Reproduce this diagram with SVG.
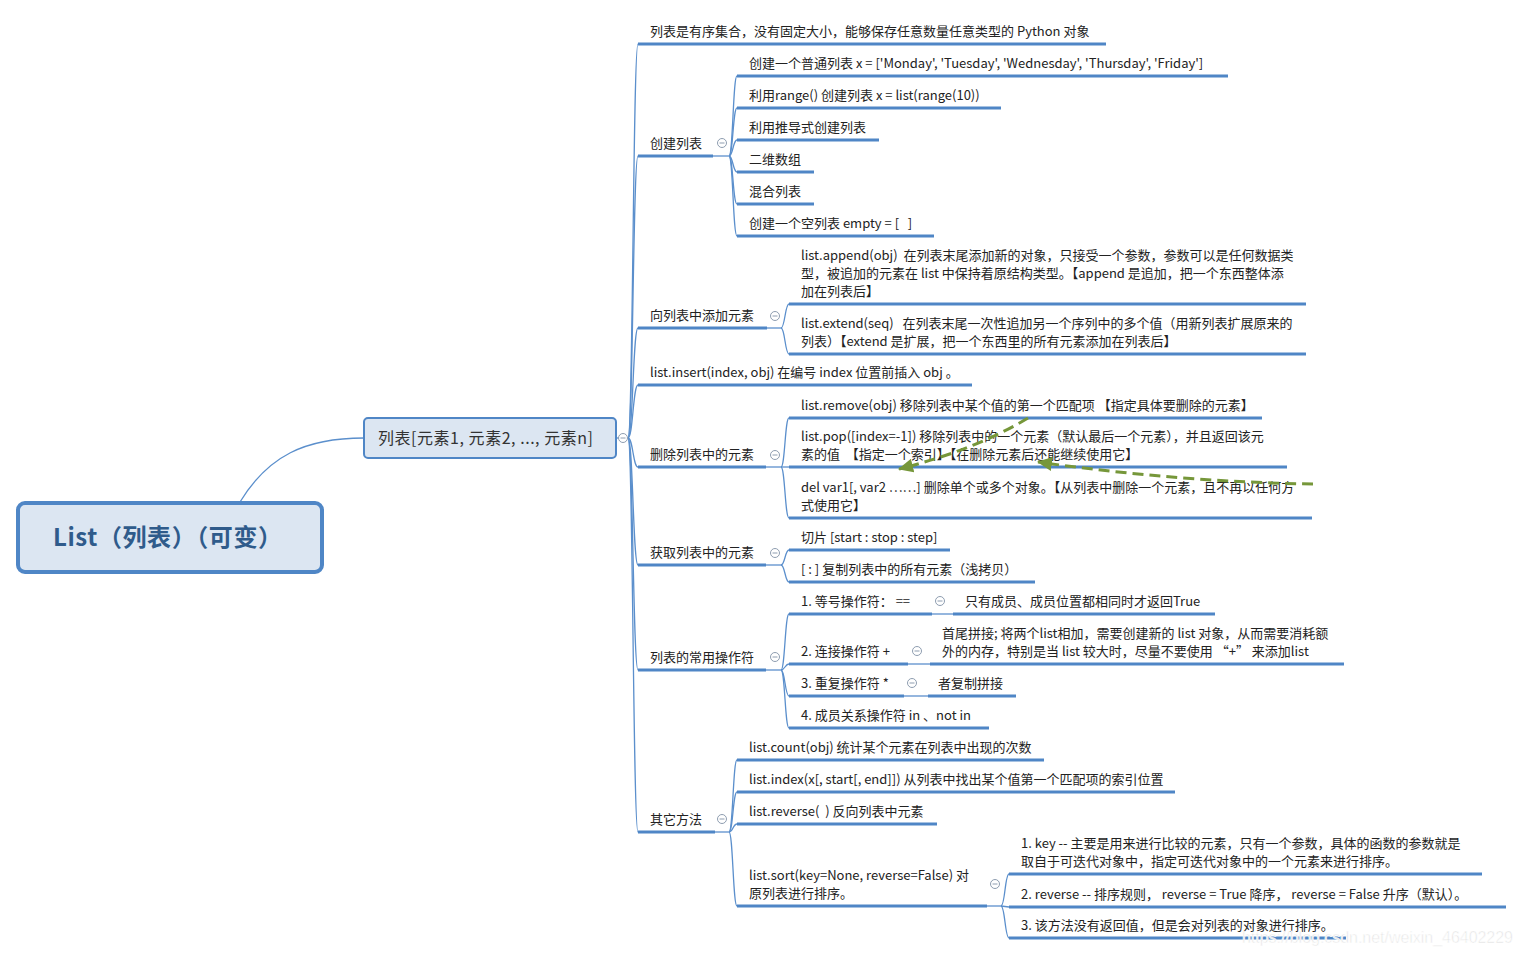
<svg xmlns="http://www.w3.org/2000/svg" width="1522" height="955" viewBox="0 0 1522 955">
<style>
.t{font-family:"Noto Sans CJK SC","Liberation Sans",sans-serif;font-size:13px;fill:#222;white-space:pre}
.ul{stroke:#4f86c6;stroke-width:3;fill:none}
.cn{stroke:#5b8fcc;stroke-width:1.3;fill:none}
.cb circle{fill:#fff;stroke:#8e9db0;stroke-width:1}
.cb line{stroke:#8e9db0;stroke-width:1}
.ga{stroke:#76973a;stroke-width:3;fill:none;stroke-dasharray:11 6}
</style>
<defs>
<marker id="ah" markerUnits="userSpaceOnUse" markerWidth="16" markerHeight="14" refX="14" refY="7" orient="auto">
<path d="M0,0 L15,7 L0,14 Z" fill="#76973a"/>
</marker>
<g id="cbtn" class="cb"><circle cx="0" cy="0" r="4.5"/><line x1="-2.5" y1="0" x2="2.5" y2="0"/></g>
</defs>
<rect width="1522" height="955" fill="#fff"/>

<g id="connectors">
<path class="cn" d="M240,502 C268,456 305,438 364,438"/>
<path class="cn" d="M617,438 L628,438"/>
<path class="cn" d="M628,438 C633,438 633,44 638,44"/>
<path class="cn" d="M628,438 C633,438 633,156 638,156"/>
<path class="cn" d="M628,438 C633,438 633,328 638,328"/>
<path class="cn" d="M628,438 C633,438 633,385 638,385"/>
<path class="cn" d="M628,438 C633,438 633,467 638,467"/>
<path class="cn" d="M628,438 C633,438 633,565 638,565"/>
<path class="cn" d="M628,438 C633,438 633,670 638,670"/>
<path class="cn" d="M628,438 C633,438 633,832 638,832"/>
<path class="cn" d="M713,156 L729,156"/>
<path class="cn" d="M729,156 C733,156 733,76 737,76"/>
<path class="cn" d="M729,156 C733,156 733,108 737,108"/>
<path class="cn" d="M729,156 C733,156 733,140 737,140"/>
<path class="cn" d="M729,156 C733,156 733,172 737,172"/>
<path class="cn" d="M729,156 C733,156 733,204 737,204"/>
<path class="cn" d="M729,156 C733,156 733,236 737,236"/>
<path class="cn" d="M767,328 L781,328"/>
<path class="cn" d="M781,328 C785,328 785,304 789,304"/>
<path class="cn" d="M781,328 C785,328 785,354 789,354"/>
<path class="cn" d="M766,467 L781,467"/>
<path class="cn" d="M781,467 C785,467 785,418 789,418"/>
<path class="cn" d="M781,467 L789,467"/>
<path class="cn" d="M781,467 C785,467 785,518 789,518"/>
<path class="cn" d="M766,565 L781,565"/>
<path class="cn" d="M781,565 C785,565 785,550 789,550"/>
<path class="cn" d="M781,565 C785,565 785,582 789,582"/>
<path class="cn" d="M766,670 L781,670"/>
<path class="cn" d="M781,670 C785,670 785,614 789,614"/>
<path class="cn" d="M781,670 C785,670 785,664 789,664"/>
<path class="cn" d="M781,670 C785,670 785,696 789,696"/>
<path class="cn" d="M781,670 C785,670 785,728 789,728"/>
<path class="cn" d="M932,614 L953,614"/>
<path class="cn" d="M908,664 L930,664"/>
<path class="cn" d="M904,696 L928,696"/>
<path class="cn" d="M715,832 L729,832"/>
<path class="cn" d="M729,832 C733,832 733,760 737,760"/>
<path class="cn" d="M729,832 C733,832 733,792 737,792"/>
<path class="cn" d="M729,832 C733,832 733,824 737,824"/>
<path class="cn" d="M729,832 C733,832 733,906 737,906"/>
<path class="cn" d="M987,906 L1001,906"/>
<path class="cn" d="M1001,906 C1005,906 1005,874 1009,874"/>
<path class="cn" d="M1001,906 L1009,907"/>
<path class="cn" d="M1001,906 C1005,906 1005,938 1009,938"/>
</g>

<g id="root">
<rect x="18" y="503" width="304" height="69" rx="7" fill="#dce6f2" stroke="#4f86c6" stroke-width="4"/>
<text x="53" y="546" textLength="229" lengthAdjust="spacing" style="font-family:'Noto Sans CJK SC','Liberation Sans',sans-serif;font-size:24px;font-weight:bold;fill:#2f5b8b">List（列表）（可变）</text>
</g>

<g id="node-list">
<rect x="364" y="418" width="252" height="40" rx="4" fill="#dce6f2" stroke="#4f86c6" stroke-width="2"/>
<text x="378" y="444" textLength="215" lengthAdjust="spacing" style="font-family:'Noto Sans CJK SC','Liberation Sans',sans-serif;font-size:16px;fill:#333">列表[元素1, 元素2, ..., 元素n]</text>
<use href="#cbtn" x="623" y="438"/>
</g>

<g id="n-desc"><line class="ul" x1="638" y1="44" x2="1106" y2="44"/><text class="t" x="650" y="36">列表是有序集合，没有固定大小，能够保存任意数量任意类型的 Python 对象</text></g>

<g id="n-create"><line class="ul" x1="638" y1="156" x2="713" y2="156"/><text class="t" x="650" y="148">创建列表</text><use href="#cbtn" x="722" y="143"/></g>
<g id="n-c1"><line class="ul" x1="737" y1="76" x2="1228" y2="76"/><text class="t" x="749" y="68">创建一个普通列表 x = ['Monday', 'Tuesday', 'Wednesday', 'Thursday', 'Friday']</text></g>
<g id="n-c2"><line class="ul" x1="737" y1="108" x2="1001" y2="108"/><text class="t" x="749" y="100">利用range() 创建列表 x = list(range(10))</text></g>
<g id="n-c3"><line class="ul" x1="737" y1="140" x2="879" y2="140"/><text class="t" x="749" y="132">利用推导式创建列表</text></g>
<g id="n-c4"><line class="ul" x1="737" y1="172" x2="814" y2="172"/><text class="t" x="749" y="164">二维数组</text></g>
<g id="n-c5"><line class="ul" x1="737" y1="204" x2="814" y2="204"/><text class="t" x="749" y="196">混合列表</text></g>
<g id="n-c6"><line class="ul" x1="737" y1="236" x2="934" y2="236"/><text class="t" x="749" y="228">创建一个空列表 empty = [   ]</text></g>

<g id="n-add"><line class="ul" x1="638" y1="328" x2="767" y2="328"/><text class="t" x="650" y="320">向列表中添加元素</text><use href="#cbtn" x="775" y="316"/></g>
<g id="n-a1"><line class="ul" x1="789" y1="304" x2="1306" y2="304"/><text class="t" x="801" y="260">list.append(obj)  在列表末尾添加新的对象，只接受一个参数，参数可以是任何数据类</text><text class="t" x="801" y="278">型，被追加的元素在 list 中保持着原结构类型。【append 是追加，把一个东西整体添</text><text class="t" x="801" y="296">加在列表后】</text></g>
<g id="n-a2"><line class="ul" x1="789" y1="354" x2="1306" y2="354"/><text class="t" x="801" y="328">list.extend(seq)   在列表末尾一次性追加另一个序列中的多个值（用新列表扩展原来的</text><text class="t" x="801" y="346">列表）【extend 是扩展，把一个东西里的所有元素添加在列表后】</text></g>

<g id="n-insert"><line class="ul" x1="638" y1="385" x2="972" y2="385"/><text class="t" x="650" y="377">list.insert(index, obj) 在编号 index 位置前插入 obj 。</text></g>

<g id="n-del"><line class="ul" x1="638" y1="467" x2="766" y2="467"/><text class="t" x="650" y="459">删除列表中的元素</text><use href="#cbtn" x="775" y="455"/></g>
<g id="n-d1"><line class="ul" x1="789" y1="418" x2="1262" y2="418"/><text class="t" x="801" y="410">list.remove(obj) 移除列表中某个值的第一个匹配项 【指定具体要删除的元素】</text></g>
<g id="n-d2"><line class="ul" x1="789" y1="467" x2="1287" y2="467"/><text class="t" x="801" y="441">list.pop([index=-1]) 移除列表中的一个元素（默认最后一个元素），并且返回该元</text><text class="t" x="801" y="459">素的值  【指定一个索引】【在删除元素后还能继续使用它】</text></g>
<g id="n-d3"><line class="ul" x1="789" y1="518" x2="1312" y2="518"/><text class="t" x="801" y="492">del var1[, var2 ……] 删除单个或多个对象。【从列表中删除一个元素，且不再以任何方</text><text class="t" x="801" y="510">式使用它】</text></g>

<g id="n-get"><line class="ul" x1="638" y1="565" x2="766" y2="565"/><text class="t" x="650" y="557">获取列表中的元素</text><use href="#cbtn" x="775" y="553"/></g>
<g id="n-g1"><line class="ul" x1="789" y1="550" x2="950" y2="550"/><text class="t" x="801" y="542">切片 [start : stop : step]</text></g>
<g id="n-g2"><line class="ul" x1="789" y1="582" x2="1035" y2="582"/><text class="t" x="801" y="574">[ : ] 复制列表中的所有元素（浅拷贝）</text></g>

<g id="n-op"><line class="ul" x1="638" y1="670" x2="766" y2="670"/><text class="t" x="650" y="662">列表的常用操作符</text><use href="#cbtn" x="775" y="657"/></g>
<g id="n-o1"><line class="ul" x1="789" y1="614" x2="932" y2="614"/><text class="t" x="801" y="606">1. 等号操作符： ==</text><use href="#cbtn" x="940" y="601"/></g>
<g id="n-o1a"><line class="ul" x1="953" y1="614" x2="1215" y2="614"/><text class="t" x="965" y="606">只有成员、成员位置都相同时才返回True</text></g>
<g id="n-o2"><line class="ul" x1="789" y1="664" x2="908" y2="664"/><text class="t" x="801" y="656">2. 连接操作符 +</text><use href="#cbtn" x="917" y="651"/></g>
<g id="n-o2a"><line class="ul" x1="930" y1="664" x2="1344" y2="664"/><text class="t" x="942" y="638">首尾拼接; 将两个list相加，需要创建新的 list 对象，从而需要消耗额</text><text class="t" x="942" y="656">外的内存，特别是当 list 较大时，尽量不要使用 “+” 来添加list</text></g>
<g id="n-o3"><line class="ul" x1="789" y1="696" x2="904" y2="696"/><text class="t" x="801" y="688">3. 重复操作符 *</text><use href="#cbtn" x="912" y="683"/></g>
<g id="n-o3a"><line class="ul" x1="928" y1="696" x2="1016" y2="696"/><text class="t" x="938" y="688">者复制拼接</text></g>
<g id="n-o4"><line class="ul" x1="789" y1="728" x2="989" y2="728"/><text class="t" x="801" y="720">4. 成员关系操作符 in 、not in</text></g>

<g id="n-other"><line class="ul" x1="638" y1="832" x2="715" y2="832"/><text class="t" x="650" y="824">其它方法</text><use href="#cbtn" x="722" y="819"/></g>
<g id="n-m1"><line class="ul" x1="737" y1="760" x2="1044" y2="760"/><text class="t" x="749" y="752">list.count(obj) 统计某个元素在列表中出现的次数</text></g>
<g id="n-m2"><line class="ul" x1="737" y1="792" x2="1175" y2="792"/><text class="t" x="749" y="784">list.index(x[, start[, end]]) 从列表中找出某个值第一个匹配项的索引位置</text></g>
<g id="n-m3"><line class="ul" x1="737" y1="824" x2="937" y2="824"/><text class="t" x="749" y="816">list.reverse(  ) 反向列表中元素</text></g>
<g id="n-m4"><line class="ul" x1="737" y1="906" x2="987" y2="906"/><text class="t" x="749" y="880">list.sort(key=None, reverse=False) 对</text><text class="t" x="749" y="898">原列表进行排序。</text><use href="#cbtn" x="995" y="884"/></g>
<g id="n-s1"><line class="ul" x1="1009" y1="874" x2="1482" y2="874"/><text class="t" x="1021" y="848">1. key -- 主要是用来进行比较的元素，只有一个参数，具体的函数的参数就是</text><text class="t" x="1021" y="866">取自于可迭代对象中，指定可迭代对象中的一个元素来进行排序。</text></g>
<g id="n-s2"><line class="ul" x1="1009" y1="907" x2="1506" y2="907"/><text class="t" x="1021" y="899">2. reverse -- 排序规则， reverse = True 降序， reverse = False 升序（默认）。</text></g>
<g id="n-s3"><line class="ul" x1="1009" y1="938" x2="1346" y2="938"/><text class="t" x="1021" y="930">3. 该方法没有返回值，但是会对列表的对象进行排序。</text></g>

<g id="arrows">
<path class="ga" d="M1028,418 Q975,450 899,469" marker-end="url(#ah)"/>
<path class="ga" d="M1313,484 Q1180,482 1038,462" marker-end="url(#ah)"/>
</g>

<text x="1242" y="943" style="font-family:'Liberation Sans',sans-serif;font-size:16px;fill:#e2e2e2;stroke:#fff;stroke-width:0.6" textLength="271">https://blog.csdn.net/weixin_46402229</text>
</svg>
